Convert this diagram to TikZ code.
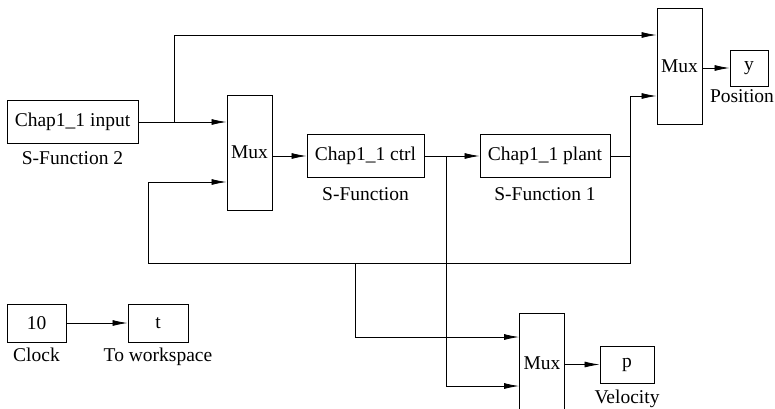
\documentclass[tikz,border=0pt]{standalone}
\usepackage{fontspec}
\setmainfont{Liberation Serif}
\usetikzlibrary{positioning, arrows.meta}

\begin{document}
\begin{tikzpicture}[x=1pt, y=-1pt,
        block/.style={draw, rectangle, line width=1pt, inner sep=0pt, font=\fontsize{19.5}{22}\selectfont},
        mux/.style={block, minimum width=45pt},
        blockname/.style={inner sep=0pt, font=\fontsize{19.5}{22}\selectfont},
        wire/.style={line width=0.8pt},
        arrow/.style={wire, -{Latex[length=15pt, width=6pt]}}
    ]
        \useasboundingbox (0,0) rectangle (775,408);

        % Blocks
        \node[block, minimum width=131pt, minimum height=43pt] (input) at (72.5,122) {Chap1\_1 input};
        \node[mux, minimum height=115pt] (mux1) at (249.5,152.5) {Mux};
        \node[block, minimum width=117pt, minimum height=43pt] (ctrl) at (365.5,156) {Chap1\_1 ctrl};
        \node[block, minimum width=130pt, minimum height=43pt] (plant) at (545,156) {Chap1\_1 plant};
        \node[mux, minimum height=116pt] (mux2) at (679.5,66) {Mux};
        \node[block, minimum width=38pt, minimum height=36pt] (ypos) at (749,68) {y};
        \node[mux, minimum height=100pt] (mux3) at (542,363) {Mux};
        \node[block, minimum width=54pt, minimum height=37pt] (pvel) at (627,364.5) {p};
        \node[block, minimum width=59pt, minimum height=38pt] (clock) at (36.5,323) {10};
        \node[block, minimum width=60pt, minimum height=38pt] (tout) at (158,323) {t};

        % Block names
        \node[blockname, below=7pt of input] (inputname) {S-Function 2};
        \node[blockname, below=9pt of ctrl] (ctrlname) {S-Function};
        \node[blockname, below=9pt of plant] (plantname) {S-Function 1};
        \node[blockname, below=3pt of ypos, xshift=-7pt] (yposname) {Position};
        \node[blockname, below=6pt of pvel] (pvelname) {Velocity};
        \node[blockname, below=5pt of clock] (clockname) {Clock};
        \node[blockname, below=5pt of tout] (toutname) {To workspace};

        % Mux ports and wire corners
        \coordinate (m1a) at (mux1.west |- input.east);
        \coordinate (m1b) at (mux1.west |- 0,182);
        \coordinate (m2a) at (mux2.west |- 0,35);
        \coordinate (m2b) at (mux2.west |- 0,96);
        \coordinate (m3a) at (mux3.west |- 0,337);
        \coordinate (m3b) at (mux3.west |- 0,386);
        \coordinate (split1) at (174,122);
        \coordinate (split2) at (446,156);
        \coordinate (split3) at (355,263);
        \coordinate (fbright) at (630,263);
        \coordinate (fbleft) at (148,263);

        % Forward path
        \draw[arrow] (input.east) -- (m1a);
        \draw[arrow] (split1) |- (m2a);
        \draw[arrow] (mux1.east |- ctrl.west) -- (ctrl.west);
        \draw[arrow] (ctrl.east) -- (plant.west);
        \draw[arrow] (split2) |- (m3b);
        \draw[arrow] (plant.east) -- (plant.east -| fbright) |- (m2b);
        \draw[arrow] (mux2.east |- ypos.west) -- (ypos.west);
        \draw[arrow] (mux3.east |- pvel.west) -- (pvel.west);

        % Feedback
        \draw[wire] (plant.east -| fbright) -- (fbright) -- (fbleft);
        \draw[arrow] (fbleft) |- (m1b);
        \draw[arrow] (split3) |- (m3a);

        % Clock
        \draw[arrow] (clock.east) -- (tout.west);

    \end{tikzpicture}
\end{document}
